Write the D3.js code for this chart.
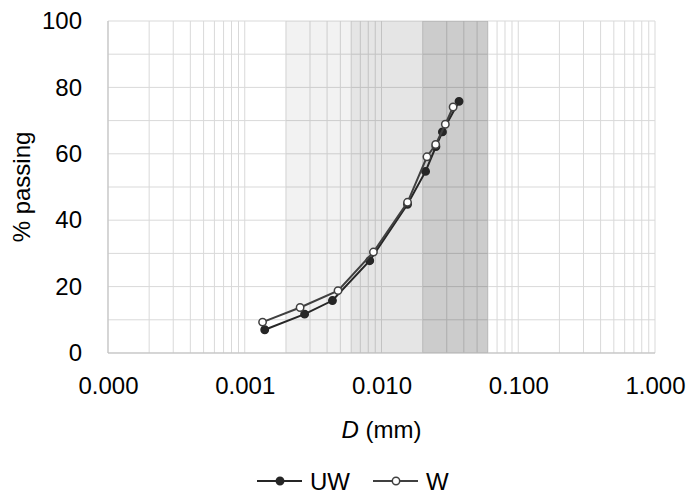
<!DOCTYPE html>
<html>
<head>
<meta charset="utf-8">
<script src="https://cdn.jsdelivr.net/npm/d3@7"></script>
<style>
  body { margin: 0; background: #fff; }
  text { font-family: "Liberation Sans", Arial, sans-serif; fill: #000; }
</style>
</head>
<body>
<div class="chart"></div>
<script>
// particle size D (mm) and % passing
var d_uw = [0.0014, 0.00274, 0.00438, 0.0082, 0.0155, 0.021, 0.025, 0.0279, 0.0369];
var p_uw = [7.0, 11.7, 15.8, 27.8, 44.8, 54.7, 62.2, 66.6, 75.8];
var d_w = [0.00135, 0.00254, 0.00481, 0.00873, 0.0155, 0.0215, 0.0249, 0.0293, 0.0334];
var p_w = [9.3, 13.7, 18.8, 30.4, 45.4, 59.1, 62.8, 68.9, 74.1];

// silt fractions: fine, medium, coarse
var band_from = [0.002, 0.006, 0.02];
var band_to = [0.006, 0.02, 0.06];
var band_shade = [0.05, 0.1, 0.2];

var x_ticks = [0.0001, 0.001, 0.01, 0.1, 1];
var y_ticks = [0, 20, 40, 60, 80, 100];

var w = 693;
var h = 493;
var fs = 24;
var margin = {
  top: 21,
  bottom: 140,
  left: 108,
  right: 38
}

var svg = d3.select(".chart")
            .append("svg")
            .attr("width", w)
            .attr("height", h);

var xScale = d3.scaleLog()
               .domain([0.0001, 1])
               .range([margin.left, w - margin.right]);
var yScale = d3.scaleLinear()
               .domain([0, 100])
               .range([h - margin.bottom, margin.top]);

// gridlines
var minor = [];
for (var k = -4; k < 0; k++) {
  for (var m = 1; m < 10; m++) minor.push(m * Math.pow(10, k));
}
minor.push(1);

svg.append("g")
   .selectAll("line")
   .data(minor)
   .enter()
   .append("line")
   .attr("x1", function(d){ return xScale(d); })
   .attr("x2", function(d){ return xScale(d); })
   .attr("y1", yScale(0))
   .attr("y2", yScale(100))
   .attr("stroke", "#d9d9d9")
   .attr("stroke-width", 1);

svg.append("g")
   .selectAll("line")
   .data(d3.range(0, 101, 10))
   .enter()
   .append("line")
   .attr("x1", xScale(0.0001))
   .attr("x2", xScale(1))
   .attr("y1", function(d){ return yScale(d); })
   .attr("y2", function(d){ return yScale(d); })
   .attr("stroke", "#d9d9d9")
   .attr("stroke-width", 1);

// shaded bands on top of the grid
svg.append("g")
   .selectAll("rect")
   .data(band_from)
   .enter()
   .append("rect")
   .attr("x", function(d){ return xScale(d); })
   .attr("y", yScale(100))
   .attr("width", function(d, i){ return xScale(band_to[i]) - xScale(d); })
   .attr("height", yScale(0) - yScale(100))
   .attr("fill", "#000")
   .attr("fill-opacity", function(d, i){ return band_shade[i]; });

// axis lines
svg.append("line")
   .attr("x1", xScale(0.0001)).attr("x2", xScale(0.0001))
   .attr("y1", yScale(0)).attr("y2", yScale(100))
   .attr("stroke", "#bfbfbf");
svg.append("line")
   .attr("x1", xScale(0.0001)).attr("x2", xScale(1))
   .attr("y1", yScale(0)).attr("y2", yScale(0))
   .attr("stroke", "#bfbfbf");

// tick labels
var xAxis = d3.axisBottom()
              .scale(xScale)
              .tickValues(x_ticks)
              .tickFormat(d3.format(".3f"))
              .tickSize(0)
              .tickPadding(24);
var yAxis = d3.axisLeft()
              .scale(yScale)
              .tickValues(y_ticks)
              .tickSize(0)
              .tickPadding(26);
var gx = svg.append("g")
   .attr("transform", "translate(0," + yScale(0) + ")")
   .call(xAxis);
var gy = svg.append("g")
   .attr("transform", "translate(" + xScale(0.0001) + ",0)")
   .call(yAxis);
[gx, gy].forEach(function(g){
  g.select(".domain").remove();
  g.selectAll("text")
   .attr("font-family", "Liberation Sans, Arial, sans-serif")
   .attr("font-size", fs)
   .attr("fill", "#000");
});

// axis titles
var xt = svg.append("text")
   .attr("x", (xScale(0.0001) + xScale(1)) / 2)
   .attr("y", 438)
   .attr("text-anchor", "middle")
   .attr("font-size", fs);
xt.append("tspan").attr("font-style", "italic").text("D");
xt.append("tspan").text(" (mm)");

svg.append("text")
   .attr("transform", "translate(30," + (yScale(50)) + ") rotate(-90)")
   .attr("text-anchor", "middle")
   .attr("font-size", fs)
   .text("% passing");

// series
var series = [
  { name: "UW", d: d_uw, p: p_uw, stroke: "#262626", fill: "#262626" },
  { name: "W", d: d_w, p: p_w, stroke: "#404040", fill: "#fff" }
];

var line = d3.line()
             .x(function(d){ return xScale(d[0]); })
             .y(function(d){ return yScale(d[1]); });

series.forEach(function(s){
  var pts = s.d.map(function(v, i){ return [v, s.p[i]]; });
  svg.append("path")
     .datum(pts)
     .attr("d", line)
     .attr("fill", "none")
     .attr("stroke", s.stroke)
     .attr("stroke-width", 2);
  svg.append("g")
     .selectAll("circle")
     .data(pts)
     .enter()
     .append("circle")
     .attr("cx", function(d){ return xScale(d[0]); })
     .attr("cy", function(d){ return yScale(d[1]); })
     .attr("r", 3.7)
     .attr("fill", s.fill)
     .attr("stroke", s.stroke)
     .attr("stroke-width", 1.5);
});

// legend
var legend_x = [257, 373];
var legend = svg.append("g")
   .selectAll("g")
   .data(series)
   .enter()
   .append("g")
   .attr("transform", function(d, i){ return "translate(" + legend_x[i] + ",481)"; });
legend.append("line")
   .attr("x1", 0).attr("x2", 45)
   .attr("stroke", function(d){ return d.stroke; })
   .attr("stroke-width", 2);
legend.append("circle")
   .attr("cx", 23)
   .attr("r", 3.7)
   .attr("fill", function(d){ return d.fill; })
   .attr("stroke", function(d){ return d.stroke; })
   .attr("stroke-width", 1.5);
legend.append("text")
   .attr("x", 53)
   .attr("y", 8.5)
   .attr("font-size", fs)
   .text(function(d){ return d.name; });
</script>
</body>
</html>
